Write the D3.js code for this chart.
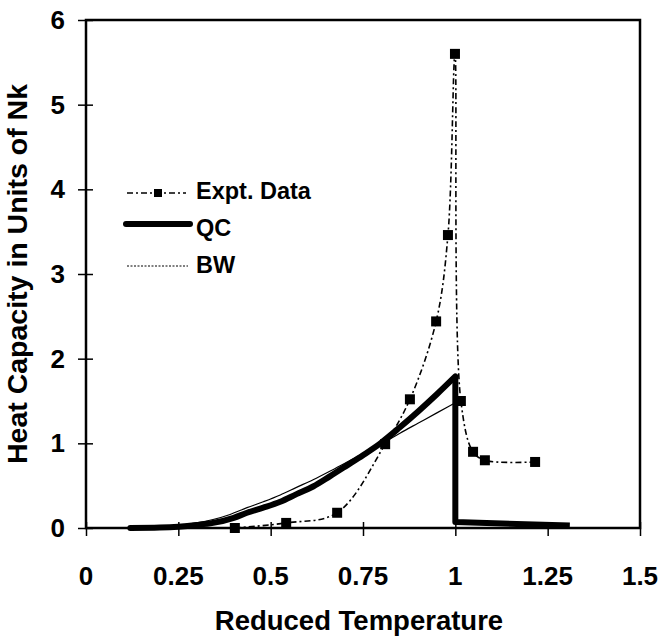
<!DOCTYPE html>
<html><head><meta charset="utf-8">
<script src="https://cdn.jsdelivr.net/npm/d3@7"></script>
<style>
html,body{margin:0;padding:0;background:#fff;}
svg text{font-family:"Liberation Sans",Arial,sans-serif;font-weight:bold;fill:#000;}
</style></head>
<body>
<svg id="c" width="660" height="637"></svg>
<script>
// Data
const xTicks = [0, 0.25, 0.5, 0.75, 1, 1.25, 1.5];
const xTickLabels = ["0", "0.25", "0.5", "0.75", "1", "1.25", "1.5"];
const yTicks = [0, 1, 2, 3, 4, 5, 6];
const exptT = [0.403, 0.542, 0.68, 0.81, 0.877, 0.948, 0.98, 0.999, 1.015, 1.048, 1.08, 1.216];
const exptC = [0.0, 0.06, 0.18, 0.99, 1.52, 2.44, 3.46, 5.6, 1.5, 0.9, 0.8, 0.78];
const qcT = [0.12, 0.2, 0.25, 0.3, 0.344, 0.4, 0.436, 0.48, 0.526, 0.57, 0.615, 0.66, 0.707, 0.75, 0.797, 0.85, 0.9, 0.95, 1.0, 1.0, 1.31];
const qcC = [0.0, 0.005, 0.015, 0.035, 0.06, 0.12, 0.18, 0.24, 0.31, 0.40, 0.49, 0.61, 0.74, 0.86, 1.0, 1.19, 1.38, 1.58, 1.79, 0.07, 0.03];
const bwT = [0.12, 0.2, 0.25, 0.3, 0.344, 0.39, 0.436, 0.48, 0.526, 0.57, 0.615, 0.66, 0.707, 0.75, 0.8, 0.85, 0.9, 0.95, 1.0, 1.0, 1.3];
const bwC = [0.0, 0.01, 0.03, 0.06, 0.10, 0.16, 0.24, 0.31, 0.39, 0.48, 0.57, 0.67, 0.78, 0.88, 0.99, 1.12, 1.24, 1.36, 1.48, 0.05, 0.02];
const legendLabels = ["Expt. Data", "QC", "BW"];

const svg = d3.select("#c");
const L = 86, R = 640, T = 20, B = 528;
const x = d3.scaleLinear().domain([0, 1.5]).range([L, R]);
const y = d3.scaleLinear().domain([0, 6]).range([B, T]);

// frame
svg.append("rect").attr("x", L).attr("y", T).attr("width", R - L).attr("height", B - T)
  .attr("fill", "none").attr("stroke", "#000").attr("stroke-width", 2.5);

// axes with crossing ticks
const xAx = svg.append("g").attr("transform", `translate(0,${B})`)
  .call(d3.axisBottom(x).tickValues(xTicks).tickSize(0).tickFormat(""));
xAx.select(".domain").remove();
xAx.selectAll(".tick line").attr("y1", -6).attr("y2", 8).attr("stroke", "#000").attr("stroke-width", 1.5);

const yAx = svg.append("g").attr("transform", `translate(${L},0)`)
  .call(d3.axisLeft(y).tickValues(yTicks).tickSize(0).tickFormat(""));
yAx.select(".domain").remove();
yAx.selectAll(".tick line").attr("x1", -8).attr("x2", 7).attr("stroke", "#000").attr("stroke-width", 1.5);

// tick labels
svg.append("g").selectAll("text").data(xTicks).join("text")
  .attr("x", d => x(d)).attr("y", 585).attr("text-anchor", "middle")
  .style("font-size", "26px").text((d, i) => xTickLabels[i]);
svg.append("g").selectAll("text").data(yTicks).join("text")
  .attr("x", 65).attr("y", d => y(d) + 9).attr("text-anchor", "end")
  .style("font-size", "26px").text(d => d);

// axis titles
svg.append("text").attr("x", (L + R) / 2 - 4).attr("y", 630).attr("text-anchor", "middle")
  .style("font-size", "27.5px").text("Reduced Temperature");
svg.append("text").attr("transform", `translate(27,${(T + B) / 2}) rotate(-90)`)
  .attr("text-anchor", "middle").style("font-size", "28.5px").text("Heat Capacity in Units of Nk");

// lines
const bwPts = bwT.map((t, i) => [t, bwC[i]]);
const qcPts = qcT.map((t, i) => [t, qcC[i]]);
const exPts = exptT.map((t, i) => [t, exptC[i]]);
const line = () => d3.line().x(d => x(d[0])).y(d => y(d[1]));

svg.append("path").attr("d", line().curve(d3.curveMonotoneX)(bwPts.slice(0, 19)))
  .attr("fill", "none").attr("stroke", "#000").attr("stroke-width", 1.2);
svg.append("path").attr("d", line()(bwPts.slice(18)))
  .attr("fill", "none").attr("stroke", "#000").attr("stroke-width", 1.2);

svg.append("path").attr("d", line().curve(d3.curveMonotoneX)(qcPts.slice(0, 19)))
  .attr("fill", "none").attr("stroke", "#000").attr("stroke-width", 6).attr("stroke-linejoin", "round").attr("stroke-linecap", "round");
svg.append("path").attr("d", line()(qcPts.slice(18)))
  .attr("fill", "none").attr("stroke", "#000").attr("stroke-width", 6).attr("stroke-linejoin", "round").attr("stroke-linecap", "butt");

svg.append("path").attr("d", line().curve(d3.curveCatmullRom.alpha(0.5))(exPts))
  .attr("fill", "none").attr("stroke", "#000").attr("stroke-width", 1.6).attr("stroke-dasharray", "6,3,2,3");

svg.append("g").selectAll("rect").data(exPts).join("rect")
  .attr("x", d => x(d[0]) - 5).attr("y", d => y(d[1]) - 5).attr("width", 10).attr("height", 10).attr("fill", "#000");

// legend
const lg = svg.append("g");
lg.append("line").attr("x1", 127).attr("x2", 186).attr("y1", 193).attr("y2", 193)
  .attr("stroke", "#000").attr("stroke-width", 1.5).attr("stroke-dasharray", "6,3,2,3");
lg.append("rect").attr("x", 154).attr("y", 189).attr("width", 8).attr("height", 8).attr("fill", "#000");
lg.append("line").attr("x1", 126).attr("x2", 190).attr("y1", 224).attr("y2", 224)
  .attr("stroke", "#000").attr("stroke-width", 6).attr("stroke-linecap", "round");
lg.append("line").attr("x1", 127).attr("x2", 188).attr("y1", 266).attr("y2", 266)
  .attr("stroke", "#000").attr("stroke-width", 1).attr("stroke-dasharray", "2,1.5");
lg.selectAll("text").data(legendLabels).join("text")
  .attr("x", 196).attr("y", (d, i) => 199 + i * 37).style("font-size", "23.5px").text(d => d);
</script>
</body></html>
